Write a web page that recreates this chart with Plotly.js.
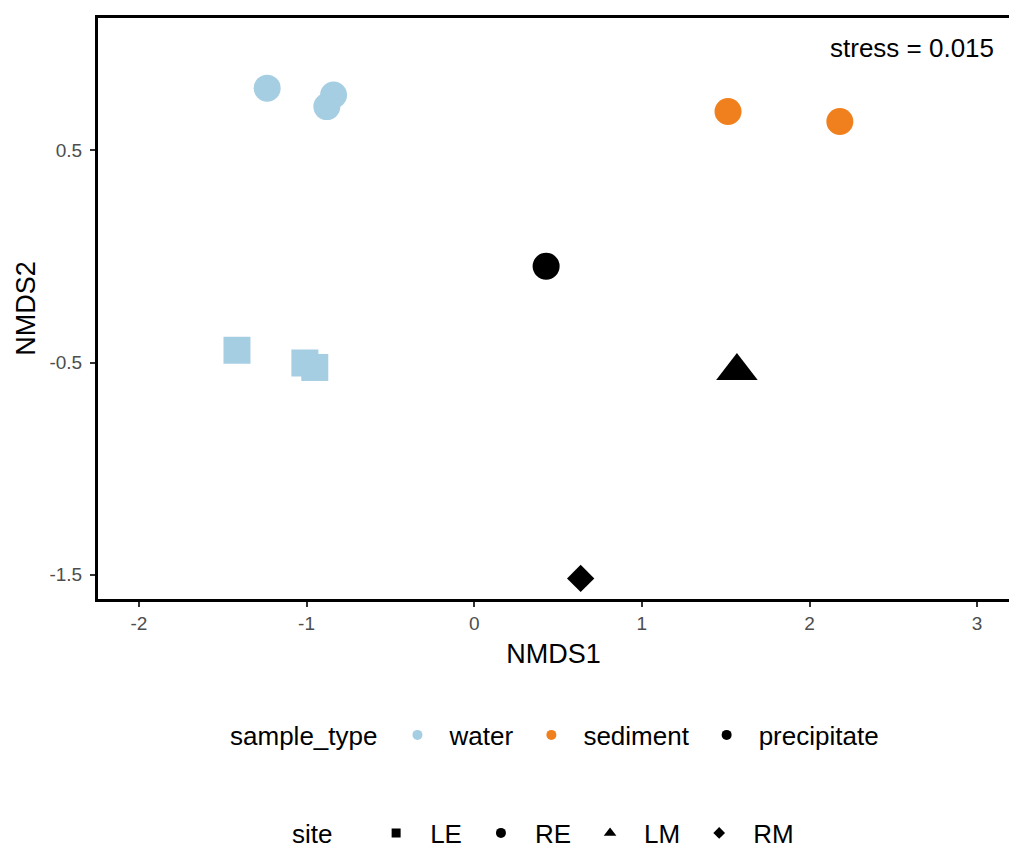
<!DOCTYPE html>
<html>
<head>
<meta charset="utf-8">
<script src="https://cdn.plot.ly/plotly-3.0.1.min.js"></script>
<style>html,body{margin:0;padding:0;background:#fff;}#chart{width:1009px;height:848px;}</style>
</head>
<body>
<div id="chart"></div>
<script>
// ---- data ----
var nmds1 = [-1.235, -0.839, -0.879, -1.415, -1.010, -0.951, 1.514, 2.181, 0.429, 1.567, 0.635];
var nmds2 = [0.793, 0.761, 0.706, -0.442, -0.502, -0.523, 0.683, 0.636, -0.046, -0.540, -1.517];
var sampleType = ['water','water','water','water','water','water','sediment','sediment','precipitate','precipitate','precipitate'];
var site = ['RE','RE','RE','LE','LE','LE','RE','RE','RE','LM','RM'];
var typeLevels = ['water','sediment','precipitate'];
var siteLevels = ['LE','RE','LM','RM'];
var stressLabel = 'stress = 0.015';

// ---- styles ----
var typeColor = {water:'#A6CEE3', sediment:'#F0801E', precipitate:'#000000'};
var siteSymbol = {LE:'square', RE:'circle', LM:'triangle-up', RM:'diamond'};
var siteSize = {LE:27, RE:27, LM:36, RM:21};
var siteLegendSize = {LE:9, RE:10, LM:11, RM:9};
var FONT = 'Liberation Sans, Arial, sans-serif';

var traces = [];
typeLevels.forEach(function(t){
  var xs=[], ys=[], sy=[], sz=[];
  for (var i=0;i<nmds1.length;i++){
    if (sampleType[i]===t){ xs.push(nmds1[i]); ys.push(nmds2[i]); sy.push(siteSymbol[site[i]]); sz.push(siteSize[site[i]]); }
  }
  traces.push({type:'scatter', mode:'markers', x:xs, y:ys, name:t, showlegend:false,
    marker:{color:typeColor[t], symbol:sy, size:sz, opacity:1, line:{width:0}}, hoverinfo:'x+y+name'});
});
// legend entries: sample_type
typeLevels.forEach(function(t){
  traces.push({type:'scatter', mode:'markers', x:[null], y:[null], name:t, legend:'legend', showlegend:true,
    marker:{color:typeColor[t], symbol:'circle', size:10, opacity:1, line:{width:0}}});
});
// legend entries: site
siteLevels.forEach(function(s){
  traces.push({type:'scatter', mode:'markers', x:[null], y:[null], name:s, legend:'legend2', showlegend:true,
    marker:{color:'#000000', symbol:siteSymbol[s], size:siteLegendSize[s], opacity:1, line:{width:0}}});
});

var layout = {
  width:1009, height:848,
  paper_bgcolor:'#ffffff', plot_bgcolor:'#ffffff',
  font:{family:FONT, color:'#000000'},
  margin:{l:97.5, r:0, t:17.5, b:249, autoexpand:false},
  xaxis:{range:[-2.244, 3.19], tickvals:[-2,-1,0,1,2,3], ticktext:['-2','-1','0','1','2','3'],
    showgrid:false, zeroline:false, showline:true, linecolor:'#000000', linewidth:3, mirror:true,
    ticks:'outside', ticklen:5, tickwidth:2, tickcolor:'#333333',
    tickfont:{size:19, color:'#4D4D4D', family:FONT},
    title:{text:'NMDS1', font:{size:27, color:'#000000', family:FONT}, standoff:12}},
  yaxis:{range:[-1.614, 1.1235], tickvals:[0.5,-0.5,-1.5], ticktext:['0.5','-0.5','-1.5'],
    showgrid:false, zeroline:false, showline:true, linecolor:'#000000', linewidth:3,
    ticks:'outside', ticklen:5, tickwidth:2, tickcolor:'#333333', ticklabelstandoff:4,
    tickfont:{size:19, color:'#4D4D4D', family:FONT},
    title:{text:'NMDS2', font:{size:27, color:'#000000', family:FONT}, standoff:7}},
  legend:{orientation:'h', xref:'container', yref:'container', x:0.226, xanchor:'left', y:1-735/848, yanchor:'middle',
    title:{text:'sample_type', side:'left', font:{size:26, family:FONT, color:'#000'}},
    font:{size:26, family:FONT, color:'#000'}, itemwidth:54, bgcolor:'rgba(0,0,0,0)'},
  legend2:{orientation:'h', xref:'container', yref:'container', x:0.2874, xanchor:'left', y:1-833/848, yanchor:'middle',
    title:{text:'site&nbsp;&nbsp;&nbsp;', side:'left', font:{size:26, family:FONT, color:'#000'}},
    font:{size:26, family:FONT, color:'#000'}, itemwidth:58, bgcolor:'rgba(0,0,0,0)'},
  annotations:[{x:3.115, y:0.983, xref:'x', yref:'y', text:stressLabel, showarrow:false,
    xanchor:'right', yanchor:'middle', font:{size:26, family:FONT, color:'#000'}}]
};

Plotly.newPlot('chart', traces, layout, {displayModeBar:false, staticPlot:true});
</script>
</body>
</html>
